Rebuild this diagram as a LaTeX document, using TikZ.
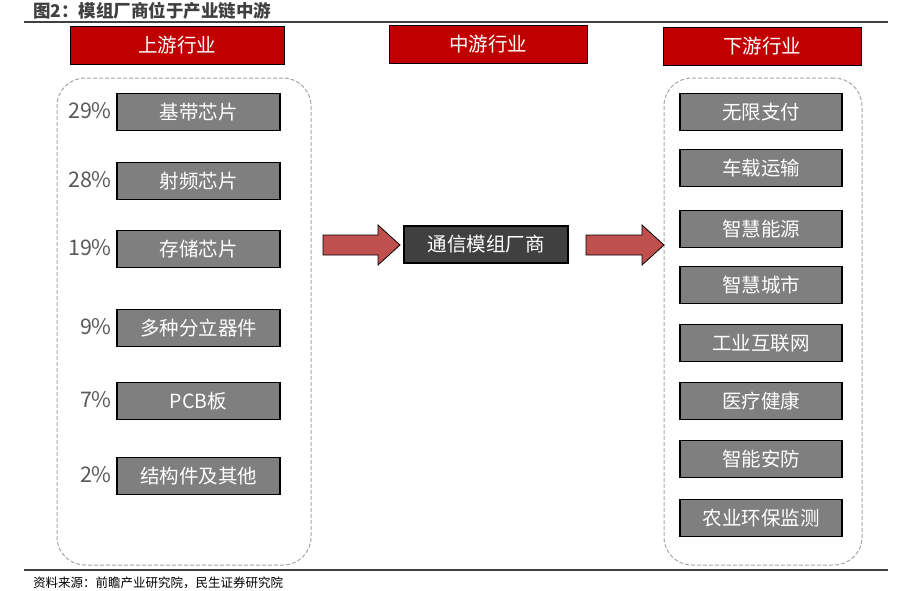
\documentclass[tikz,border=0pt]{standalone}
\usepackage{fontspec}
\setmainfont{Noto Sans CJK SC}
\definecolor{hdrred}{HTML}{C00000}
\definecolor{boxgray}{HTML}{7F7F7F}
\definecolor{darkbox}{HTML}{404040}
\definecolor{arrred}{HTML}{C0504D}
\definecolor{txtgray}{HTML}{595959}
\definecolor{titlegray}{HTML}{404040}
\definecolor{dashgray}{HTML}{A6A6A6}
\tikzset{
  hdr/.style={draw=black, line width=0.8pt, fill=hdrred, text=white, minimum height=38pt, font=\fontsize{19.5}{19.5}\selectfont, inner sep=0pt},
  item/.style={draw=black, line width=1.2pt, fill=boxgray, text=white, minimum width=163pt, minimum height=37pt, font=\fontsize{19.5}{19.5}\selectfont, inner sep=0pt},
  pct/.style={text=txtgray, anchor=east, font=\fontsize{21.5}{21.5}\selectfont, inner sep=0pt},
  group/.style={draw=dashgray, line width=1pt, rounded corners=28pt, dash pattern=on 4pt off 2pt},
  bigarrow/.style={draw=black, line width=0.8pt, fill=arrred, line join=miter},
  rule/.style={draw=titlegray, line width=2pt}
}
\begin{document}
\begin{tikzpicture}[x=1pt,y=-1pt]
\useasboundingbox (0,0) rectangle (911,590);
% title
\node[anchor=west, text=titlegray, font=\fontsize{17.5}{17.5}\selectfont\bfseries, inner sep=0pt] (title) at (33,11) {图2：模组厂商位于产业链中游};
\coordinate (t1) at (24,22); \coordinate (t2) at (888,22);
\draw[rule] (t1) -- (t2);
% headers
\node[hdr, minimum width=214pt] (hup) at (177,45) {上游行业};
\node[hdr, minimum width=198pt] (hmid) at (488,44.5) {中游行业};
\node[hdr, minimum width=198pt] (hdown) at (762,46) {下游行业};
% groups
\node[group, minimum width=254pt, minimum height=487pt] (gleft) at (184,321.5) {};
\node[group, minimum width=198pt, minimum height=487pt] (gright) at (763,321.5) {};
% left items
\foreach \n/\y/\t/\p in {a/112/基带芯片/29\%, b/181/射频芯片/28\%, c/249/存储芯片/19\%, d/328/多种分立器件/9\%, e/401/PCB板/7\%, f/476/结构件及其他/2\%}{
  \node[item] (l\n) at (198.5,\y) {\t};
  \node[pct] (p\n) at (112,\y-1) {\p};
}
% right items
\foreach \n/\y/\t in {a/112/无限支付, b/168/车载运输, c/229/智慧能源, d/285/智慧城市, e/343/工业互联网, f/401/医疗健康, g/459/智能安防, h/518/农业环保监测}{
  \node[item, minimum width=162pt] (r\n) at (761,\y) {\t};
}
% middle
\node[item, fill=darkbox, minimum width=164pt] (mid) at (486,244.5) {通信模组厂商};
% arrows
\coordinate (aL) at (323,245);
\coordinate (aR) at (586,245);
\draw[bigarrow] (aL) ++(0,-10) -- ++(55,0) -- ++(0,-10) -- ++(22,20) -- ++(-22,20) -- ++(0,-10) -- ++(-55,0) -- cycle;
\draw[bigarrow] (aR) ++(0,-10) -- ++(56,0) -- ++(0,-10) -- ++(22,20) -- ++(-22,20) -- ++(0,-10) -- ++(-56,0) -- cycle;
% footer
\coordinate (f1) at (24,570); \coordinate (f2) at (888,570);
\draw[rule] (f1) -- (f2);
\node[anchor=west, text=black, font=\fontsize{12.5}{12.5}\selectfont, inner sep=0pt] (src) at (33,583) {资料来源：前瞻产业研究院，民生证券研究院};
\end{tikzpicture}
\end{document}
